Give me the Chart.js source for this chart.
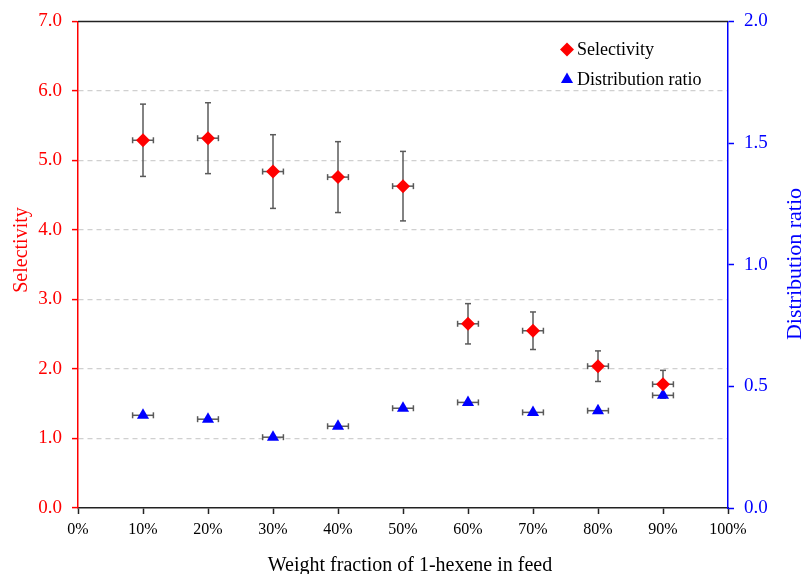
<!DOCTYPE html>
<html>
<head>
<meta charset="utf-8">
<script src="https://cdn.jsdelivr.net/npm/chart.js@4.4.1/dist/chart.umd.min.js"></script>
<style>
  html, body { margin: 0; padding: 0; background: #fff; }
  #wrap { width: 803px; height: 574px; }
</style>
</head>
<body>
<div id="wrap"><canvas id="chart" width="803" height="574"></canvas></div>
<script>
// Weight fraction of 1-hexene in feed (%)
const feedFractions = [10, 20, 30, 40, 50, 60, 70, 80, 90];
// Selectivity (left axis) and its error
const selectivity = [5.29, 5.32, 4.84, 4.76, 4.63, 2.65, 2.55, 2.04, 1.78];
const selectivityErr = [0.52, 0.51, 0.53, 0.51, 0.50, 0.29, 0.27, 0.22, 0.20];
// Distribution ratio (right axis)
const distRatio = [0.381, 0.365, 0.291, 0.336, 0.410, 0.434, 0.393, 0.400, 0.463];
// horizontal error on feed fraction (%)
const feedErr = [1.6, 1.6, 1.6, 1.6, 1.6, 1.6, 1.6, 1.6, 1.6];

const xTicks = [0, 10, 20, 30, 40, 50, 60, 70, 80, 90, 100];
const serif = "'Liberation Serif', 'Times New Roman', serif";

// error bars drawn under the markers
const errorBars = {
  id: 'errorBars',
  beforeDatasetsDraw(chart) {
    const ctx = chart.ctx;
    const x = chart.scales.x, yL = chart.scales.y, yR = chart.scales.y2;
    ctx.save();
    ctx.strokeStyle = '#5a5a5a';
    ctx.lineWidth = 1.5;
    const cap = 3;
    function line(x1, y1, x2, y2) {
      ctx.beginPath(); ctx.moveTo(x1, y1); ctx.lineTo(x2, y2); ctx.stroke();
    }
    feedFractions.forEach((f, i) => {
      // selectivity: vertical + horizontal
      const px = x.getPixelForValue(f);
      const py = yL.getPixelForValue(selectivity[i]);
      const top = yL.getPixelForValue(selectivity[i] + selectivityErr[i]);
      const bot = yL.getPixelForValue(selectivity[i] - selectivityErr[i]);
      line(px, top, px, bot);
      line(px - cap, top, px + cap, top);
      line(px - cap, bot, px + cap, bot);
      const xl = x.getPixelForValue(f - feedErr[i]);
      const xr = x.getPixelForValue(f + feedErr[i]);
      line(xl, py, xr, py);
      line(xl, py - cap, xl, py + cap);
      line(xr, py - cap, xr, py + cap);
      // distribution ratio: horizontal
      const qy = yR.getPixelForValue(distRatio[i]);
      line(xl, qy, xr, qy);
      line(xl, qy - cap, xl, qy + cap);
      line(xr, qy - cap, xr, qy + cap);
    });
    ctx.restore();
  }
};

// top frame line, axis titles and the in-plot legend
const frameAndLegend = {
  id: 'frameAndLegend',
  afterDraw(chart) {
    const ctx = chart.ctx;
    const a = chart.chartArea;
    ctx.save();
    ctx.strokeStyle = '#222';
    ctx.lineWidth = 1.5;
    ctx.beginPath();
    ctx.moveTo(a.left, a.top);
    ctx.lineTo(a.right, a.top);
    ctx.stroke();

    // axis titles
    ctx.textAlign = 'center';
    ctx.textBaseline = 'middle';
    ctx.font = '20px ' + serif;
    ctx.fillStyle = '#000';
    ctx.fillText('Weight fraction of 1-hexene in feed', 410, 566);
    ctx.save();
    ctx.translate(22, 250);
    ctx.rotate(-Math.PI / 2);
    ctx.fillStyle = '#ff0000';
    ctx.fillText('Selectivity', 0, 0);
    ctx.restore();
    ctx.save();
    ctx.translate(795, 264);
    ctx.rotate(-Math.PI / 2);
    ctx.font = '22px ' + serif;
    ctx.fillStyle = '#0000ff';
    ctx.fillText('Distribution ratio', 0, 0);
    ctx.restore();

    // legend
    const lx = a.right - 161, ly = a.top + 28;
    ctx.textAlign = 'left';
    ctx.font = '18px ' + serif;
    chart.data.datasets.forEach((ds, i) => {
      const y = ly + i * 30;
      ctx.fillStyle = ds.backgroundColor;
      ctx.strokeStyle = ds.backgroundColor;
      Chart.helpers.drawPoint(ctx, { pointStyle: ds.pointStyle, radius: ds.pointRadius, borderWidth: 0, rotation: 0 }, lx, y);
      ctx.fillStyle = '#000';
      ctx.fillText(ds.label, lx + 10, y + 1);
    });
    ctx.restore();
  }
};

new Chart(document.getElementById('chart'), {
  type: 'scatter',
  data: {
    datasets: [
      {
        label: 'Selectivity',
        data: feedFractions.map((f, i) => ({ x: f, y: selectivity[i] })),
        yAxisID: 'y',
        pointStyle: 'rectRot',
        pointRadius: 7,
        backgroundColor: '#ff0000',
        borderColor: '#ff0000',
        borderWidth: 0
      },
      {
        label: 'Distribution ratio',
        data: feedFractions.map((f, i) => ({ x: f, y: distRatio[i] })),
        yAxisID: 'y2',
        pointStyle: 'triangle',
        pointRadius: 7,
        backgroundColor: '#0000ff',
        borderColor: '#0000ff',
        borderWidth: 0
      }
    ]
  },
  options: {
    responsive: false,
    animation: false,
    layout: { padding: { top: 20, right: 0, bottom: 0, left: 0 } },
    plugins: { legend: { display: false }, tooltip: { enabled: false } },
    scales: {
      x: {
        type: 'linear',
        min: 0, max: 100,
        afterBuildTicks: s => { s.ticks = xTicks.map(v => ({ value: v })); },
        afterFit: s => { s.height = 66; },
        ticks: { callback: v => v + '%', color: '#000', font: { family: serif, size: 16 }, padding: 6, maxRotation: 0 },
        grid: { drawOnChartArea: false, tickLength: 6, tickColor: '#222', tickWidth: 1.5 },
        border: { color: '#222', width: 1.5 }
      },
      y: {
        position: 'left',
        min: 0, max: 7,
        ticks: { stepSize: 1, callback: v => v.toFixed(1), color: '#ff0000', font: { family: serif, size: 19 }, padding: 10 },
        afterFit: s => { s.width = 78; },
        grid: {
          color: c => (c.tick && (c.tick.value === 0 || c.tick.value === 7)) ? 'rgba(0,0,0,0)' : '#d0d0d0',
          lineWidth: 1.2,
          tickLength: 6, tickColor: '#ff0000', tickWidth: 1.5, tickBorderDash: []
        },
        border: { color: '#ff0000', width: 1.5, dash: [5, 4] }
      },
      y2: {
        position: 'right',
        min: 0, max: 2,
        ticks: { stepSize: 0.5, callback: v => v.toFixed(1), color: '#0000ff', font: { family: serif, size: 19 }, padding: 10 },
        afterFit: s => { s.width = 75; },
        grid: { drawOnChartArea: false, tickLength: 6, tickColor: '#0000ff', tickWidth: 1.5 },
        border: { color: '#0000ff', width: 1.5 }
      }
    }
  },
  plugins: [errorBars, frameAndLegend]
});
</script>
</body>
</html>
